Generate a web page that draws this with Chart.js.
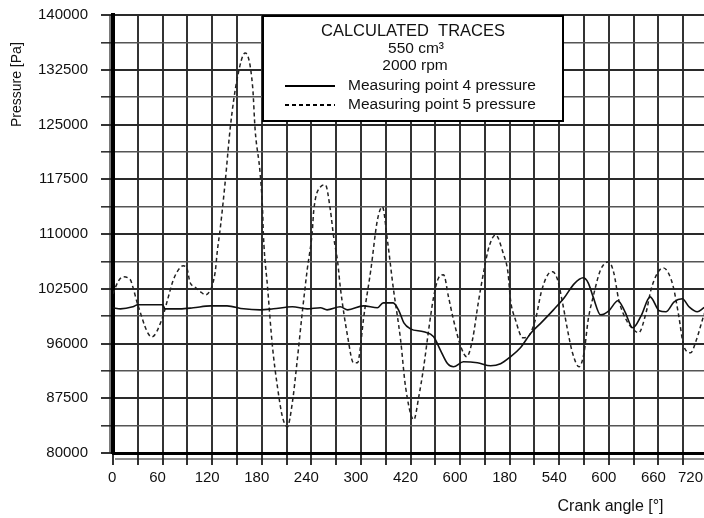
<!DOCTYPE html>
<html><head><meta charset="utf-8">
<script src="https://cdn.jsdelivr.net/npm/chart.js@4/dist/chart.umd.min.js"></script>
<style>
html,body{margin:0;padding:0;background:#fff;overflow:hidden;}
#wrap{width:704px;height:518px;overflow:hidden;position:relative;background:#fff;}
canvas{display:block;}
</style></head><body>
<div id="wrap"><canvas id="c" width="708" height="518"></canvas></div>
<script>
// ---- data ----
const xTickLabels = ['0','60','120','180','240','300','420','600','180','540','600','660','720'];
const yTickLabels = ['80000','87500','96000','102500','110000','117500','125000','132500','140000'];
const seriesNames = ['Measuring point 4 pressure','Measuring point 5 pressure'];
const legendTitle = ['CALCULATED  TRACES','550 cm\u00b3','2000 rpm'];
const xTitle = 'Crank angle [\u00b0]';
const yTitle = 'Pressure [Pa]';

const p4Angle = [0,9,24,30,60,63,81,97,118,138,158,178,194,217,235,251,259,275,284,303,320,327,339,346,352,360,376,388,396,405,412,424,441,457,469,481,493,506,518,533,546,558,569,575,581,590,600,611,619,629,639,650,661,669,679,689,697,707,715,720];
const p4Pressure = [99890,99750,100030,100300,100300,99750,99750,99890,100160,100160,99750,99610,99750,100030,99750,99890,99610,100030,99610,100160,99890,100570,100570,99480,97830,97010,96600,95920,94140,92220,91810,92500,92360,91950,92220,93180,94410,96470,97830,99610,101260,103170,104000,103310,101390,98930,99480,100850,99480,97150,98790,101390,99480,99340,100710,101120,100030,99340,99890,100160];

const p5Angle = [0,6,12,21,24,30,47,59,66,73,81,85,90,93,99,106,112,118,121,124,126,130,136,142,150,160,169,172,178,181,182,187,193,199,205,211,217,223,229,235,241,243,251,257,263,267,272,275,284,291,296,299,303,312,320,326,332,339,348,354,364,370,376,382,388,394,400,406,412,421,428,435,442,449,455,463,472,478,481,487,496,502,512,518,526,532,538,544,550,556,564,570,575,581,590,600,606,612,621,630,636,645,651,659,666,672,678,684,691,699,706,714,720];
const p5Pressure = [101800,103450,104130,103720,102760,100300,95900,98250,100980,103720,105360,105640,105090,103450,102760,102080,101670,102350,103310,105090,107420,110980,117410,124670,131100,134800,130140,124260,118370,113300,109880,102760,94550,89070,84970,83600,86880,92770,99200,105090,110160,113300,116450,116730,113300,109610,106050,102760,95920,92360,92360,94140,98250,105090,111940,113720,109200,102760,95510,89070,84560,87700,91810,96880,101390,104000,104410,101390,98250,94550,93180,95510,100570,105090,108240,109880,107420,104680,100980,98250,95780,95920,98660,101940,104410,104820,103720,100570,96880,93730,91810,93730,98250,101390,105090,106190,104680,100980,98250,96880,96470,99200,102350,104680,105360,104680,102760,99200,94550,93730,95510,98520,100500];

// ---- chart ----
const FONT = '"Liberation Sans", Arial, Helvetica, sans-serif';
const NB = '\u00a0';
const INK = '#111';

const frameLines = {
  id: 'frameLines',
  beforeDatasetsDraw(chart) {
    const {ctx, chartArea: a} = chart;
    ctx.save();
    ctx.strokeStyle = '#222';
    ctx.lineWidth = 1.2;
    ctx.beginPath();
    ctx.moveTo(a.left + 2, a.bottom + 6);
    ctx.lineTo(a.right, a.bottom + 6);
    ctx.moveTo(a.left - 3, a.top);
    ctx.lineTo(a.left - 3, a.bottom);
    ctx.stroke();
    ctx.restore();
  }
};

const legendBox = {
  id: 'legendBox',
  afterDatasetsDraw(chart) {
    const {ctx, chartArea: a} = chart;
    const x0 = a.left + 150, y0 = a.top + 1, w = 300, h = 105;
    ctx.save();
    ctx.fillStyle = '#fff';
    ctx.fillRect(x0, y0, w, h);
    ctx.strokeStyle = '#000';
    ctx.lineWidth = 2;
    ctx.strokeRect(x0, y0, w, h);
    ctx.fillStyle = INK;
    ctx.textAlign = 'center';
    ctx.textBaseline = 'middle';
    const cx = x0 + w / 2;
    ctx.font = '16.5px ' + FONT;
    ctx.fillText(legendTitle[0], cx, y0 + 15);
    ctx.font = '15.5px ' + FONT;
    ctx.fillText(legendTitle[1], cx + 3, y0 + 33);
    ctx.fillText(legendTitle[2], cx + 2, y0 + 50);
    chart.data.datasets.forEach((ds, i) => {
      const yy = y0 + 70 + i * 19;
      ctx.beginPath();
      ctx.setLineDash(ds.borderDash || []);
      ctx.lineWidth = 1.8;
      ctx.strokeStyle = '#000';
      ctx.moveTo(x0 + 22, yy);
      ctx.lineTo(x0 + 72, yy);
      ctx.stroke();
      ctx.setLineDash([]);
      ctx.textAlign = 'left';
      ctx.fillText(ds.label, x0 + 85, yy);
    });
    ctx.restore();
  }
};

new Chart(document.getElementById('c'), {
  type: 'line',
  data: {
    datasets: [
      { label: seriesNames[0], data: p4Angle.map((a, i) => ({x: a, y: p4Pressure[i]})),
        borderColor: '#111', borderWidth: 1.6, pointRadius: 0, fill: false, cubicInterpolationMode: 'monotone' },
      { label: seriesNames[1], data: p5Angle.map((a, i) => ({x: a, y: p5Pressure[i]})),
        borderColor: '#222', borderWidth: 1.5, borderDash: [4, 3], pointRadius: 0, fill: false, cubicInterpolationMode: 'monotone' }
    ]
  },
  options: {
    responsive: false, animation: false, devicePixelRatio: 1,
    layout: { padding: { top: 15, left: 0, right: 0, bottom: 0 } },
    plugins: { legend: { display: false }, tooltip: { enabled: false } },
    scales: {
      x: {
        type: 'linear', min: 0, max: 720,
        ticks: {
          stepSize: 30, autoSkip: false, maxRotation: 0, align: 'inner', labelOffset: -5, padding: 4,
          color: INK, font: { family: FONT, size: 15 },
          callback: (v) => (v % 60 === 0 ? xTickLabels[v / 60] : '')
        },
        grid: { color: '#333', lineWidth: 2, tickLength: 12, tickColor: '#333' },
        border: { color: '#000', width: 3 },
        title: { display: true, text: xTitle + NB.repeat(10), align: 'end', color: INK,
                 font: { family: FONT, size: 16 }, padding: { top: 0, bottom: 2 } },
        afterFit(s) { s.height = 65; s.paddingLeft = 0; s.paddingRight = 0; }
      },
      y: {
        type: 'linear', min: 80000, max: 140000,
        ticks: {
          stepSize: 3750, autoSkip: false, padding: 13, color: INK, font: { family: FONT, size: 15 },
          callback: (v) => ((v - 80000) % 7500 === 0 ? yTickLabels[(v - 80000) / 7500] : '')
        },
        grid: {
          color: (c) => ((c.tick && (c.tick.value - 80000) % 7500 === 0) ? '#2a2a2a' : '#555'),
          lineWidth: (c) => ((c.tick && (c.tick.value - 80000) % 7500 === 0) ? 2 : 1.6),
          tickLength: 12, tickColor: '#333'
        },
        border: { color: '#000', width: 4 },
        title: { display: true, text: yTitle + NB.repeat(7), align: 'end', color: INK,
                 font: { family: FONT, size: 14 }, padding: { top: 9, bottom: 0 } },
        afterFit(s) { s.width = 113; s.paddingTop = 0; s.paddingBottom = 0; }
      }
    }
  },
  plugins: [frameLines, legendBox]
});
</script>
</body></html>
